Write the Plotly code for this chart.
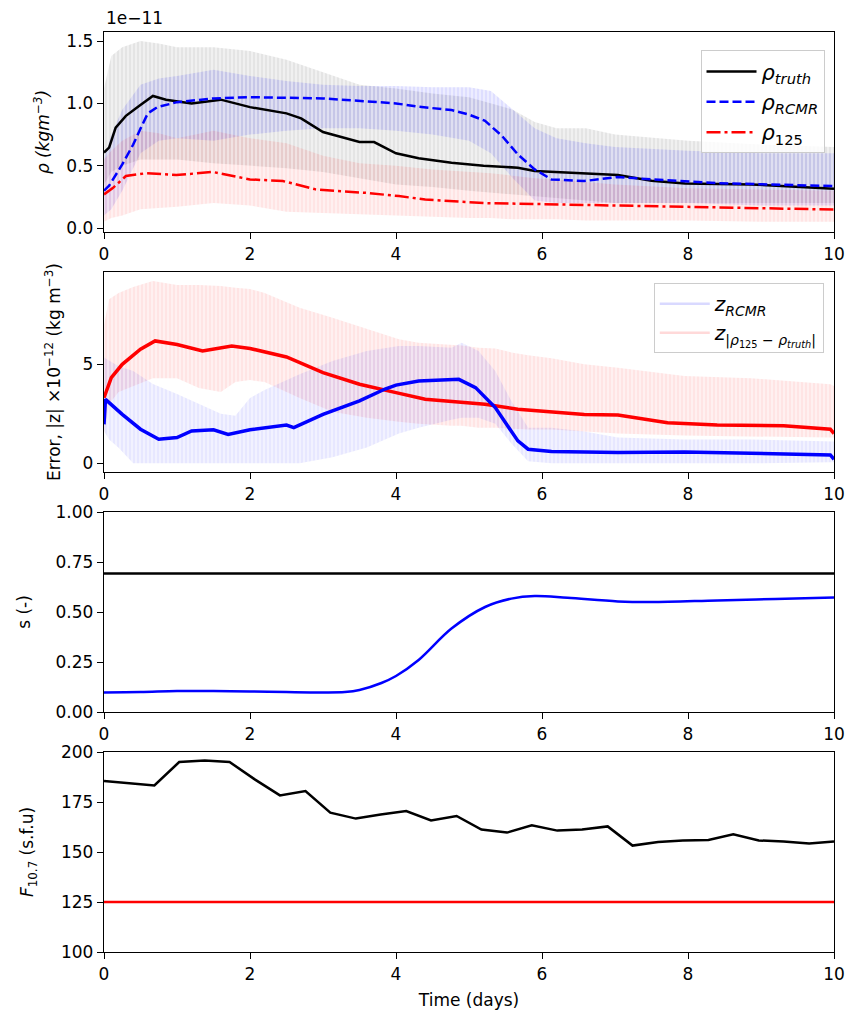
import plotly.graph_objects as go
from plotly.subplots import make_subplots

# ---------------- Panel 1: density (units of 1e-11 kg m^-3) ----------------
t_truth = [0, 0.07, 0.16, 0.3, 0.48, 0.67, 0.85, 1.2, 1.6, 2.0, 2.5, 2.7, 3.0, 3.5, 3.7, 4.0,
           4.31, 4.76, 5.2, 5.67, 5.9, 6.5, 7.04, 7.5, 7.96, 8.87, 10.0]
rho_truth = [0.605, 0.645, 0.806, 0.9, 0.98, 1.06, 1.03, 1.0, 1.03, 0.97, 0.92, 0.88, 0.77, 0.69,
             0.69, 0.60, 0.56, 0.524, 0.50, 0.484, 0.457, 0.44, 0.425, 0.38, 0.358, 0.35, 0.315]

t_rcmr = [0, 0.07, 0.25, 0.4, 0.51, 0.6, 0.73, 1.0, 1.5, 2.0, 3.0, 3.5, 4.0, 4.31, 4.76, 5.0,
          5.22, 5.45, 5.67, 5.9, 6.13, 6.58, 7.04, 7.5, 8.4, 10.0]
rho_rcmr = [0.30, 0.34, 0.51, 0.67, 0.81, 0.92, 0.97, 1.01, 1.04, 1.05, 1.04, 1.02, 1.0, 0.973,
            0.947, 0.91, 0.86, 0.74, 0.59, 0.47, 0.39, 0.377, 0.41, 0.39, 0.36, 0.336]

t_125 = [0, 0.12, 0.3, 0.58, 0.99, 1.49, 2.0, 2.45, 2.9, 3.59, 4.04, 4.4, 5.22, 6.13, 7.5, 10.0]
rho_125 = [0.27, 0.32, 0.417, 0.44, 0.425, 0.45, 0.39, 0.377, 0.31, 0.282, 0.256, 0.229, 0.2,
           0.19, 0.17, 0.148]

# oscillation envelopes (upper / lower) of the three density series
t_env1 = [0, 0.1, 0.25, 0.5, 0.75, 1.0, 1.5, 2.0, 2.5, 3.0, 3.5, 4.0, 4.5, 5.0, 5.3, 5.6, 5.9,
          6.2, 6.6, 7.0, 8.0, 9.0, 10.0]
truth_hi = [1.12, 1.38, 1.45, 1.5, 1.48, 1.45, 1.45, 1.42, 1.35, 1.25, 1.15, 1.12, 1.08, 1.05,
            1.0, 0.95, 0.85, 0.8, 0.8, 0.75, 0.7, 0.67, 0.65]
truth_lo = [0.35, 0.45, 0.5, 0.55, 0.55, 0.55, 0.52, 0.5, 0.48, 0.45, 0.4, 0.35, 0.33, 0.3,
            0.28, 0.27, 0.25, 0.24, 0.22, 0.2, 0.2, 0.2, 0.2]
rcmr_hi = [0.55, 0.75, 0.95, 1.15, 1.2, 1.22, 1.27, 1.22, 1.18, 1.15, 1.14, 1.14, 1.13, 1.13,
           1.1, 0.95, 0.8, 0.72, 0.68, 0.65, 0.62, 0.6, 0.6]
rcmr_lo = [0.1, 0.15, 0.3, 0.6, 0.7, 0.72, 0.7, 0.75, 0.78, 0.8, 0.8, 0.78, 0.75, 0.7, 0.6,
           0.4, 0.22, 0.2, 0.2, 0.2, 0.2, 0.18, 0.18]
m125_hi = [0.55, 0.62, 0.7, 0.78, 0.76, 0.72, 0.78, 0.72, 0.68, 0.58, 0.52, 0.5, 0.47, 0.45,
           0.44, 0.42, 0.4, 0.39, 0.37, 0.35, 0.32, 0.31, 0.3]
m125_lo = [0.05, 0.08, 0.1, 0.15, 0.16, 0.17, 0.2, 0.18, 0.13, 0.12, 0.11, 0.1, 0.09, 0.08,
           0.08, 0.07, 0.07, 0.07, 0.06, 0.06, 0.06, 0.05, 0.05]

# ---------------- Panel 2: error, units of 1e-12 kg m^-3 ----------------
t_z125 = [0, 0.1, 0.25, 0.5, 0.7, 1.0, 1.35, 1.75, 2.0, 2.5, 3.0, 3.5, 4.0, 4.4, 5.22, 5.67,
          6.58, 7.04, 7.72, 8.4, 9.31, 9.95, 10.0]
z_125 = [3.31, 4.32, 5.0, 5.76, 6.18, 6.0, 5.67, 5.92, 5.8, 5.37, 4.58, 3.99, 3.57, 3.23, 2.98,
         2.73, 2.47, 2.44, 2.05, 1.93, 1.9, 1.72, 1.5]

t_zr = [0, 0.02, 0.25, 0.5, 0.75, 1.0, 1.2, 1.5, 1.7, 2.0, 2.5, 2.6, 3.0, 3.5, 3.85, 4.0, 4.31,
        4.86, 5.09, 5.36, 5.67, 5.81, 6.13, 7.04, 7.95, 8.86, 9.95, 10.0]
z_rcmr = [1.97, 3.23, 2.47, 1.72, 1.21, 1.3, 1.63, 1.69, 1.46, 1.69, 1.93, 1.8, 2.47, 3.15, 3.75,
          3.95, 4.16, 4.24, 3.82, 2.81, 1.13, 0.71, 0.59, 0.54, 0.57, 0.5, 0.42, 0.2]

t_env2 = [0, 0.07, 0.2, 0.4, 0.67, 1.0, 1.3, 1.6, 1.8, 2.0, 2.2, 2.68, 3.13, 3.6, 4.04, 4.31,
          4.76, 4.9, 5.13, 5.36, 5.58, 5.81, 6.13, 6.58, 7.04, 7.95, 8.86, 9.95, 10.0]
z125_hi = [7.0, 8.28, 8.6, 8.9, 9.2, 9.0, 9.0, 8.95, 8.87, 8.8, 8.6, 7.86, 7.35, 6.77, 6.26,
           6.09, 6.0, 5.95, 5.84, 5.8, 5.6, 5.45, 5.3, 5.0, 4.83, 4.41, 4.3, 3.99, 3.9]
z125_lo = [1.5, 3.0, 3.6, 3.9, 4.3, 4.3, 3.8, 3.6, 4.1, 4.2, 4.1, 3.3, 2.6, 2.3, 2.1, 2.0,
           1.9, 1.9, 1.8, 1.8, 1.75, 1.7, 1.7, 1.6, 1.5, 1.4, 1.35, 1.3, 1.3]
zr_hi = [5.34, 5.2, 4.9, 4.66, 4.0, 3.5, 3.0, 2.5, 2.4, 3.3, 3.7, 4.5, 5.17, 5.67, 5.92, 5.92,
         5.84, 6.09, 5.67, 4.66, 3.15, 1.8, 1.8, 1.6, 1.3, 1.2, 1.2, 1.1, 1.1]
zr_lo = [1.63, 1.2, 0.79, 0.0, 0.0, 0.0, 0.0, 0.0, 0.0, 0.0, 0.0, 0.0, 0.3, 0.8, 1.5, 1.8,
         2.2, 2.3, 2.3, 2.0, 1.0, 0.1, 0.0, 0.0, 0.0, 0.0, 0.0, 0.05, 0.05]

# ---------------- Panel 3: scaling parameter s ----------------
t_s = [0, 0.5, 1.0, 1.5, 2.0, 2.5, 3.0, 3.3, 3.5, 3.8, 4.0, 4.31, 4.76, 5.22, 5.58, 5.9, 6.35,
       7.04, 7.5, 8.4, 9.2, 10.0]
s_rcmr = [0.098, 0.1, 0.105, 0.105, 0.103, 0.1, 0.098, 0.1, 0.11, 0.145, 0.18, 0.26, 0.417,
          0.525, 0.567, 0.58, 0.571, 0.553, 0.55, 0.558, 0.565, 0.572]
t_s_true = [0, 10.0]
s_true = [0.692, 0.692]

# ---------------- Panel 4: solar flux F10.7 ----------------
t_f = [0, 0.69, 1.03, 1.38, 1.72, 2.07, 2.41, 2.76, 3.10, 3.45, 3.79, 4.14, 4.48, 4.83, 5.17,
       5.52, 5.86, 6.21, 6.55, 6.90, 7.24, 7.59, 7.93, 8.28, 8.62, 8.97, 9.31, 9.66, 10.0]
f107_obs = [185.5, 183.3, 195.0, 195.8, 195.0, 186.2, 178.3, 180.5, 169.7, 166.7, 168.8, 170.5,
            165.8, 168.0, 161.2, 159.7, 163.3, 160.7, 161.2, 162.8, 153.2, 155.0, 155.8, 156.0,
            158.8, 155.8, 155.2, 154.2, 155.2]
t_f_model = [0, 10.0]
f107_model = [125, 125]

FONT = "DejaVu Sans"
BLUE = "#0000ff"
RED = "#ff0000"

fig = make_subplots(rows=4, cols=1, vertical_spacing=40 / 920)


def band(t, hi, lo, fill, stripe, row):
    fig.add_trace(go.Scatter(
        x=list(t) + list(t)[::-1], y=list(hi) + list(lo)[::-1],
        mode="lines", line=dict(width=0), fill="toself", fillcolor=fill,
        fillpattern=dict(shape="|", size=4, solidity=0.45, fgcolor=stripe, bgcolor=fill),
        hoverinfo="skip", showlegend=False), row=row, col=1)


# panel 1 bands then lines
band(t_env1, truth_hi, truth_lo, "rgba(0,0,0,0.06)", "rgba(0,0,0,0.11)", 1)
band(t_env1, rcmr_hi, rcmr_lo, "rgba(0,0,255,0.07)", "rgba(0,0,255,0.13)", 1)
band(t_env1, m125_hi, m125_lo, "rgba(255,0,0,0.06)", "rgba(255,0,0,0.11)", 1)

fig.add_trace(go.Scatter(x=t_truth, y=rho_truth, mode="lines", line=dict(color="black", width=2.5),
                         name="<i>ρ<sub>truth</sub></i>", legend="legend"), row=1, col=1)
fig.add_trace(go.Scatter(x=t_rcmr, y=rho_rcmr, mode="lines",
                         line=dict(color=BLUE, width=2.5, dash="9px,4px"),
                         name="<i>ρ<sub>RCMR</sub></i>", legend="legend"), row=1, col=1)
fig.add_trace(go.Scatter(x=t_125, y=rho_125, mode="lines",
                         line=dict(color=RED, width=2.5, dash="14px,4px,3px,4px"),
                         name="<i>ρ</i><sub>125</sub>", legend="legend"), row=1, col=1)

# panel 2
band(t_env2, z125_hi, z125_lo, "rgba(255,0,0,0.06)", "rgba(255,0,0,0.11)", 2)
band(t_env2, zr_hi, zr_lo, "rgba(0,0,255,0.05)", "rgba(0,0,255,0.10)", 2)
fig.add_trace(go.Scatter(x=t_z125, y=z_125, mode="lines", line=dict(color=RED, width=3.5),
                         showlegend=False), row=2, col=1)
fig.add_trace(go.Scatter(x=t_zr, y=z_rcmr, mode="lines", line=dict(color=BLUE, width=3.5),
                         showlegend=False), row=2, col=1)
# legend keys for the oscillating error series
fig.add_trace(go.Scatter(x=[None], y=[None], mode="lines",
                         line=dict(color="rgba(0,0,255,0.15)", width=2.5),
                         name="<i>z<sub>RCMR</sub></i>", legend="legend2"), row=2, col=1)
fig.add_trace(go.Scatter(x=[None], y=[None], mode="lines",
                         line=dict(color="rgba(255,0,0,0.15)", width=2.5),
                         name="<i>z</i><sub>|<i>ρ</i><sub>125</sub> − <i>ρ<sub>truth</sub></i>|</sub>",
                         legend="legend2"), row=2, col=1)

# panel 3
fig.add_trace(go.Scatter(x=t_s_true, y=s_true, mode="lines", line=dict(color="black", width=2.5),
                         showlegend=False), row=3, col=1)
fig.add_trace(go.Scatter(x=t_s, y=s_rcmr, mode="lines", line=dict(color=BLUE, width=2.5, shape="spline"),
                         showlegend=False), row=3, col=1)

# panel 4
fig.add_trace(go.Scatter(x=t_f, y=f107_obs, mode="lines", line=dict(color="black", width=2.5),
                         showlegend=False), row=4, col=1)
fig.add_trace(go.Scatter(x=t_f_model, y=f107_model, mode="lines", line=dict(color=RED, width=2.5),
                         showlegend=False), row=4, col=1)

axis_style = dict(showline=True, mirror=True, linecolor="black", linewidth=1.4,
                  ticks="outside", ticklen=6, tickwidth=1.4, tickcolor="black",
                  showgrid=False, zeroline=False,
                  tickfont=dict(family=FONT, size=17, color="black"))

for r in range(1, 5):
    fig.update_xaxes(range=[0, 10], tickvals=[0, 2, 4, 6, 8, 10], row=r, col=1, **axis_style)

fig.update_xaxes(title=dict(text="Time (days)", font=dict(family=FONT, size=17, color="black"),
                            standoff=11), row=4, col=1)

title_font = dict(family=FONT, size=17, color="black")
fig.update_yaxes(range=[-0.032, 1.573], tickvals=[0, 0.5, 1.0, 1.5], tickformat=".1f",
                 title=dict(text="<i>ρ (kgm<sup>−3</sup>)</i>", font=title_font, standoff=12),
                 row=1, col=1, **axis_style)
fig.update_yaxes(range=[-0.44, 9.66], tickvals=[0, 5],
                 title=dict(text="Error, |z| ×10<sup>−12</sup> (kg m<sup>−3</sup>)", font=title_font,
                            standoff=17),
                 row=2, col=1, **axis_style)
fig.update_yaxes(range=[0, 1], tickvals=[0, 0.25, 0.5, 0.75, 1.0], tickformat=".2f",
                 title=dict(text="s (-)", font=title_font, standoff=20),
                 row=3, col=1, **axis_style)
fig.update_yaxes(range=[100, 200], tickvals=[100, 125, 150, 175, 200],
                 title=dict(text="<i>F</i><sub>10.7</sub> (s.f.u)", font=title_font, standoff=22),
                 row=4, col=1, **axis_style)

legend_style = dict(bgcolor="rgba(255,255,255,0.8)", bordercolor="#cccccc", borderwidth=1,
                    xanchor="right", yanchor="top", tracegroupgap=2, itemwidth=50)

fig.update_layout(
    width=857, height=1018,
    margin=dict(l=104, r=20, t=32, b=66),
    plot_bgcolor="white", paper_bgcolor="white",
    font=dict(family=FONT, size=17, color="black"),
    legend=dict(x=0.987, y=0.98, font=dict(family=FONT, size=21), **legend_style),
    legend2=dict(x=0.986, y=0.727, font=dict(family=FONT, size=20), **legend_style),
    annotations=[dict(text="1e−11", xref="paper", yref="paper", x=0, y=1, xanchor="left",
                      yanchor="bottom", showarrow=False, yshift=2,
                      font=dict(family=FONT, size=17, color="black"))],
)

fig.write_html("out.html")
